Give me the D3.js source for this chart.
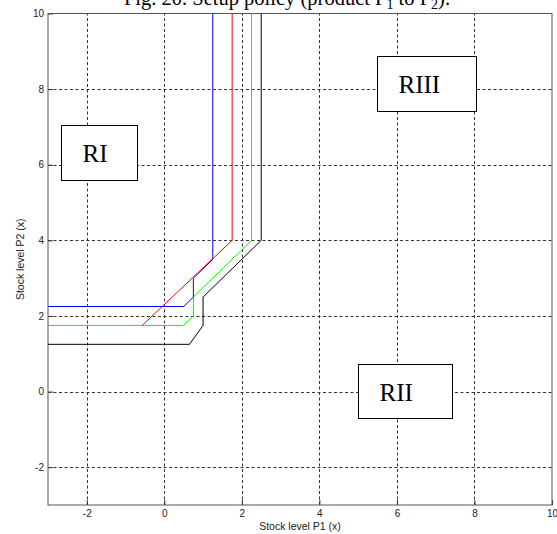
<!DOCTYPE html>
<html>
<head>
<meta charset="utf-8">
<script src="https://cdn.jsdelivr.net/npm/d3@7"></script>
<style>
  html, body { margin: 0; padding: 0; background: #fff; }
  svg { display: block; }
</style>
</head>
<body>
<svg id="chart" width="557" height="534"></svg>
<script>
// ---- Data ----
const xDomain = [-3, 10];
const yDomain = [-3, 10];
const xTicks = [-2, 0, 2, 4, 6, 8, 10];
const yTicks = [-2, 0, 2, 4, 6, 8, 10];

const blueX  = [-3, 0.5, 0.75, 0.75, 1.25, 1.25];
const blueY  = [2.25, 2.25, 2.5, 3.0, 3.5, 10];
const redX   = [-0.57, 1.75, 1.75];
const redY   = [1.75, 4, 10];
const greenX = [-3, 0.5, 0.75, 0.75, 2.25, 2.25];
const greenY = [1.75, 1.75, 2.0, 2.5, 4, 10];
const blackX = [-3, 0.65, 1.0, 1.0, 2.5, 2.5];
const blackY = [1.25, 1.25, 1.75, 2.5, 4, 10];

const regionLabels = ["RI", "RII", "RIII"];
// region boxes in data units: [x0, x1, yTop, yBottom]
const regionBoxes = [
  [-2.67, -0.70, 7.05, 5.60],
  [5.00, 7.41, 0.72, -0.70],
  [5.49, 8.04, 8.87, 7.43]
];

const titleParts = ["Fig. 20. Setup policy (product P", "1", " to P", "2", ")."];
const xLabel = "Stock level P1 (x)";
const yLabel = "Stock level P2 (x)";

// ---- Layout ----
const svg = d3.select("#chart");
const L = 48, R = 552, T = 13.5, B = 505;
const x = d3.scaleLinear().domain(xDomain).range([L, R]);
const y = d3.scaleLinear().domain(yDomain).range([B, T]);
const crisp = v => Math.round(v) + 0.5;
const fmt = d => String(d);

// Grid
const grid = svg.append("g");
xTicks.filter(t => t < xDomain[1]).forEach(t => {
  grid.append("line")
    .attr("x1", crisp(x(t))).attr("x2", crisp(x(t)))
    .attr("y1", y(yDomain[0])).attr("y2", y(yDomain[1]))
    .attr("stroke", "#333").attr("stroke-width", 1)
    .attr("stroke-dasharray", "3,2.5");
});
yTicks.filter(t => t < yDomain[1]).forEach(t => {
  grid.append("line")
    .attr("y1", crisp(y(t))).attr("y2", crisp(y(t)))
    .attr("x1", x(xDomain[0])).attr("x2", x(xDomain[1]))
    .attr("stroke", "#333").attr("stroke-width", 1)
    .attr("stroke-dasharray", "3,2.5");
});

// Axes
const xAxis = d3.axisBottom(x).tickValues(xTicks).tickSize(-5).tickSizeOuter(0).tickPadding(5)
  .tickFormat(fmt);
const yAxis = d3.axisLeft(y).tickValues(yTicks).tickSize(-5).tickSizeOuter(0).tickPadding(4)
  .tickFormat(fmt);

const gx = svg.append("g").attr("transform", `translate(0,${B})`).call(xAxis);
const gy = svg.append("g").attr("transform", `translate(${L},0)`).call(yAxis);
[gx, gy].forEach(g => {
  g.select(".domain").remove();
  g.selectAll(".tick line").attr("stroke", "#333");
  g.selectAll(".tick text")
    .attr("font-family", "Liberation Sans, Arial, sans-serif")
    .attr("font-size", "10px")
    .attr("fill", "#222");
});

// Plot box
svg.append("rect")
  .attr("x", L).attr("y", T).attr("width", R - L).attr("height", B - T)
  .attr("fill", "none").attr("stroke", "#555").attr("stroke-width", 1);

// Lines
const line = d3.line().x(d => x(d[0])).y(d => y(d[1]));
const series = [
  {xs: blackX, ys: blackY, color: "#000000"},
  {xs: greenX, ys: greenY, color: "#00ff00"},
  {xs: redX,   ys: redY,   color: "#ff0000"},
  {xs: blueX,  ys: blueY,  color: "#0000ff"}
];
series.forEach(s => {
  svg.append("path")
    .datum(s.xs.map((v, i) => [v, s.ys[i]]))
    .attr("d", line)
    .attr("fill", "none")
    .attr("stroke", s.color)
    .attr("stroke-width", 1);
});

// Region annotation boxes
regionLabels.forEach((lab, i) => {
  const b = regionBoxes[i];
  const x0 = crisp(x(b[0])), x1 = crisp(x(b[1]));
  const y0 = crisp(y(b[2])), y1 = crisp(y(b[3]));
  svg.append("rect")
    .attr("x", x0).attr("y", y0).attr("width", x1 - x0).attr("height", y1 - y0)
    .attr("fill", "#fff").attr("stroke", "#000").attr("stroke-width", 1);
  svg.append("text")
    .attr("x", x0 + 21).attr("y", y0 + 36.5)
    .attr("font-family", "Liberation Serif, Times New Roman, serif")
    .attr("font-size", "25px")
    .attr("fill", "#000")
    .text(lab);
});

// Axis labels
svg.append("text")
  .attr("x", (L + R) / 2).attr("y", 530)
  .attr("text-anchor", "middle")
  .attr("font-family", "Liberation Sans, Arial, sans-serif")
  .attr("font-size", "10.5px").attr("fill", "#222")
  .text(xLabel);
svg.append("text")
  .attr("transform", `translate(24,${(T + B) / 2}) rotate(-90)`)
  .attr("text-anchor", "middle")
  .attr("font-family", "Liberation Sans, Arial, sans-serif")
  .attr("font-size", "10.5px").attr("fill", "#222")
  .text(yLabel);

// Title (cut off at the top as in the reference)
const title = svg.append("text")
  .attr("x", 287).attr("y", 5)
  .attr("text-anchor", "middle")
  .attr("font-family", "Liberation Serif, Times New Roman, serif")
  .attr("font-size", "20.5px").attr("fill", "#000");
titleParts.forEach((p, i) => {
  const ts = title.append("tspan").text(p);
  if (i % 2 === 1) ts.attr("font-size", "14px").attr("dy", "4");
  else if (i > 0) ts.attr("dy", "-4");
});
</script>
</body>
</html>
